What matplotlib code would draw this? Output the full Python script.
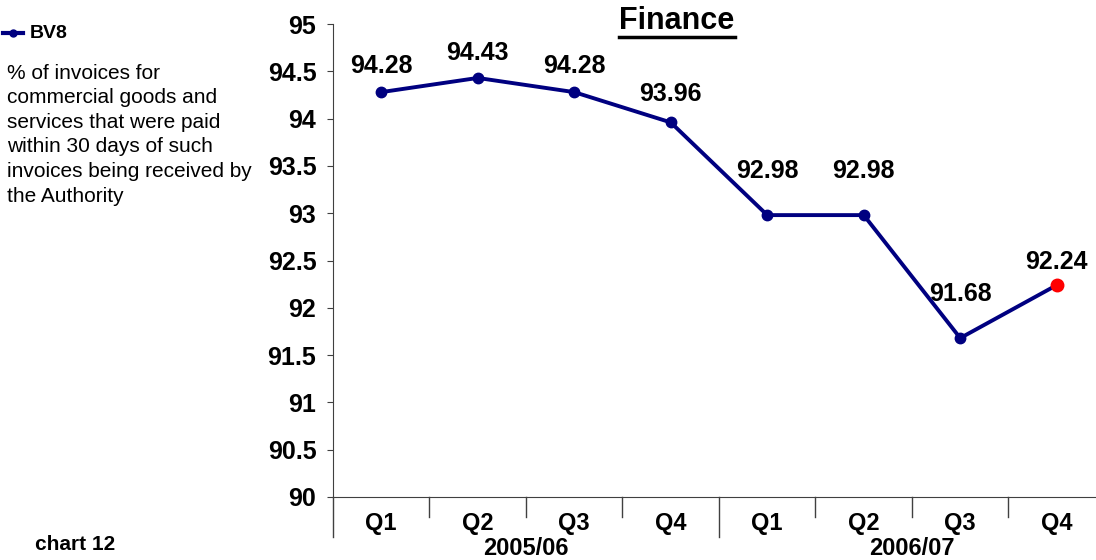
import matplotlib.pyplot as plt

plt.rcParams["font.family"] = ["Liberation Sans", "DejaVu Sans"]

quarters = ["Q1", "Q2", "Q3", "Q4", "Q1", "Q2", "Q3", "Q4"]
years = ["2005/06", "2006/07"]
values = [94.28, 94.43, 94.28, 93.96, 92.98, 92.98, 91.68, 92.24]
label_offsets = [10, 9, 10, 12, 23, 23, 23, 8]  # points above marker

navy = "#000080"
axis_grey = "#404040"

fig = plt.figure(figsize=(10.96, 5.6), dpi=100)
ax = fig.add_axes([0.3038, 0.1125, 0.7044, 0.8446])

x = list(range(len(values)))
ax.plot(x, values, color=navy, linewidth=2.8, marker="o", markersize=7.5)
ax.plot(x[-1], values[-1], "o", color="#ff0000", markersize=9, zorder=5)

for xi, v, off in zip(x, values, label_offsets):
    ax.annotate(f"{v:.2f}", (xi, v), xytext=(0, off), textcoords="offset points",
                ha="center", va="bottom", fontsize=18, fontweight="bold")

ax.set_xlim(-0.5, len(values) - 0.5)
ax.set_ylim(90, 95)
yt = [90 + 0.5 * i for i in range(11)]
ax.set_yticks(yt)
ax.set_yticklabels([f"{t:g}" for t in yt], fontsize=18, fontweight="bold")
ax.tick_params(axis="y", length=4, color=axis_grey, pad=8)

# category axis drawn by hand: quarter labels, year labels, separators
ax.set_xticks([])
xt = ax.get_xaxis_transform()
for xi, q in zip(x, quarters):
    ax.text(xi, -0.056, q, transform=xt, ha="center", va="center",
            fontsize=17, fontweight="bold")
for b in range(len(values) + 1):
    depth = -0.085 if b % 4 == 0 else -0.042
    ax.plot([b - 0.5, b - 0.5], [0, depth], transform=xt, color=axis_grey,
            linewidth=1, clip_on=False)
for i, yr in enumerate(years):
    ax.text(1.5 + 4 * i, -0.108, yr, transform=xt, ha="center", va="center",
            fontsize=17, fontweight="bold")

for s in ["top", "right"]:
    ax.spines[s].set_visible(False)
ax.spines["left"].set_color(axis_grey)
ax.spines["bottom"].set_color(axis_grey)

title = fig.text(0.6177, 0.9625, "Finance", fontsize=22, fontweight="bold",
                 ha="center", va="center")
fig.canvas.draw()
bb = title.get_window_extent()
fig.add_artist(plt.Line2D([bb.x0, bb.x1], [bb.y0 - 1, bb.y0 - 1],
                          transform=None, color="black", linewidth=2.5))

# legend area
fig.add_artist(plt.Line2D([0.003, 0.012, 0.021], [0.941, 0.941, 0.941],
                          color=navy, linewidth=3, marker="o", markersize=5,
                          markevery=[1], transform=fig.transFigure))
fig.text(0.0274, 0.941, "BV8", fontsize=14, fontweight="bold", va="center")
fig.text(0.0064, 0.886,
         "% of invoices for\ncommercial goods and\nservices that were paid\n"
         "within 30 days of such\ninvoices being received by\nthe Authority",
         fontsize=15, va="top", linespacing=1.37)
fig.text(0.032, 0.027, "chart 12", fontsize=15, fontweight="bold", va="center")

fig.savefig("out.png", dpi=100)
